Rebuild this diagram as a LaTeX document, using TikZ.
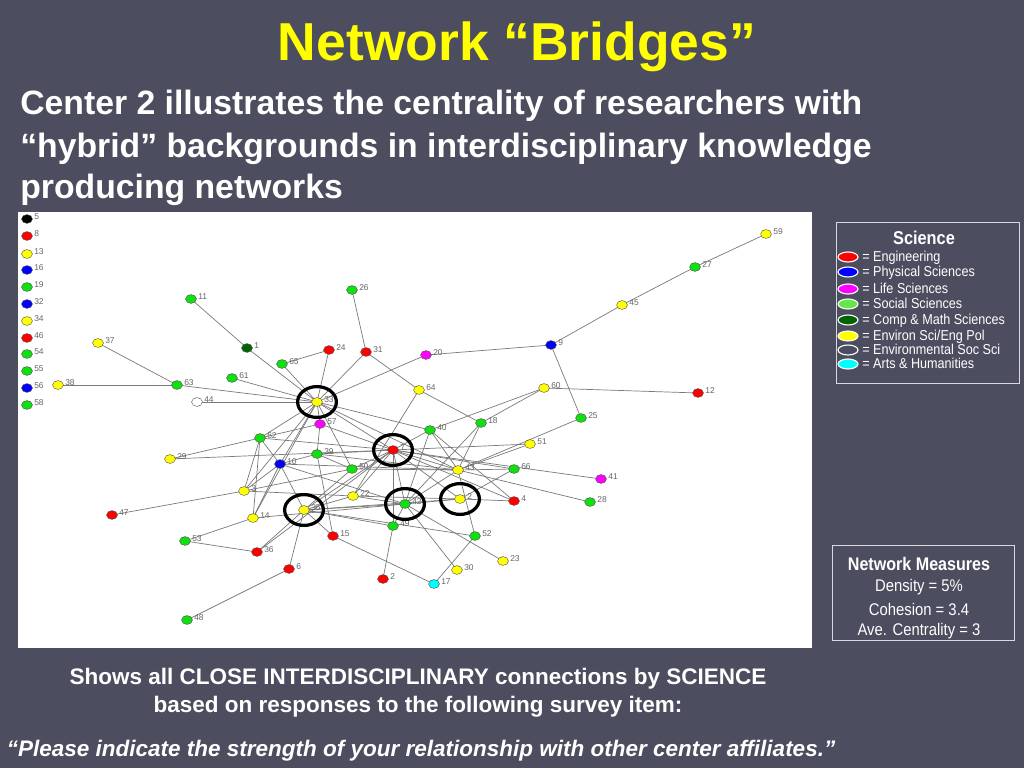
\documentclass[tikz,border=0pt]{standalone}
\usepackage{fontspec}
\setmainfont{Liberation Sans}
\newfontfamily\narrowfont[FakeStretch=0.88]{Liberation Sans}
\usepackage{tikz}
\usetikzlibrary{shapes.geometric, backgrounds}
\definecolor{slidebg}{HTML}{4C4D5E}
\definecolor{titleyellow}{HTML}{FFFF00}
\definecolor{engred}{HTML}{FF0000}
\definecolor{physblue}{HTML}{0000FF}
\definecolor{lifemag}{HTML}{FF00FF}
\definecolor{socgreen}{HTML}{10E010}
\definecolor{leggreen}{HTML}{66E64D}
\definecolor{compgreen}{HTML}{006400}
\definecolor{envyellow}{HTML}{FFFF00}
\definecolor{artscyan}{HTML}{00FFFF}
\definecolor{edgegray}{HTML}{7A7A7A}
\definecolor{labelgray}{HTML}{666666}
\definecolor{boxborder}{HTML}{D8D8E0}
\tikzset{
vertex/.style={
draw=black!70,
ellipse,
inner sep=0pt,
line width=0.3pt,
minimum width=0.27cm,
minimum height=0.22cm
},
engn/.style={fill=engred},
phys/.style={fill=physblue},
life/.style={fill=lifemag},
soc/.style={fill=socgreen},
comp/.style={fill=compgreen},
envp/.style={fill=envyellow},
envs/.style={fill=white},
arts/.style={fill=artscyan},
blk/.style={fill=black},
nlbl/.style={
font=\fontsize{6}{7}\selectfont,
text=labelgray,
inner sep=1pt,
yshift=1.5pt
},
edge/.style={
draw=edgegray,
line width=0.5pt
},
ring/.style={
draw=black,
ellipse,
line width=2.3pt,
inner sep=0pt,
minimum width=0.97cm,
minimum height=0.77cm
},
legkey/.style={
ellipse,
draw=white,
line width=0.8pt,
inner sep=0pt,
minimum width=0.5cm,
minimum height=0.25cm
},
legtext/.style={
font=\narrowfont\fontsize{10.2}{12}\selectfont,
text=white,
anchor=base west,
inner sep=0pt
},
infobox/.style={
draw=boxborder,
line width=1pt
},
titletext/.style={
font=\bfseries\fontsize{38}{44}\selectfont,
text=titleyellow
},
bodytext/.style={
font=\bfseries\fontsize{24}{29}\selectfont,
text=white,
anchor=base west,
inner sep=0pt
},
notetext/.style={
font=\bfseries\fontsize{16}{19}\selectfont,
text=white,
anchor=base,
inner sep=0pt
}
}

\begin{document}
\begin{tikzpicture}[x=0.025cm, y=-0.025cm]

\useasboundingbox (0,0) rectangle (1024,768);

% title and heading
\node[titletext] (title) at (517,47) {Network “Bridges”};
\node[bodytext] (head1) at (20,115) {Center 2 illustrates the centrality of researchers with};
\node[bodytext] (head2) at (20,157) {“hybrid” backgrounds in interdisciplinary knowledge};
\node[bodytext] (head3) at (20,198) {producing networks};

% network nodes
\foreach \n/\t/\x/\y/\s in {
  5/5/27/219/blk, 8/8/27/236/engn, 13/13/27/254/envp, 16/16/27/270/phys,
  19/19/27/287/soc, 32/32/27/304/phys, 34/34/27/321/envp, 46/46/27/338/engn,
  54/54/27/354/soc, 55/55/27/371/soc, 56/56/27/388/phys, 58/58/27/405/soc,
  11/11/191/299/soc, 37/37/98/343/envp, 1/1/247/348/comp, 38/38/58/385/envp,
  63/63/177/385/soc, 61/61/232/378/soc, 44/44/197/402/envs, 65/65/282/364/soc,
  26/26/352/290/soc, 24/24/329/350/engn, 31/31/366/352/engn, 20/20/426/355/life,
  64/64/419/390/envp, 33/33/317/402/envp, 57/57/320/424/life, 40/40/430/430/soc,
  18/18/481/423/soc, 9/9/551/345/phys, 59/59/766/234/envp, 27/27/695/267/soc,
  45/45/622/305/envp, 60/60/544/388/envp, 12/12/698/393/engn, 25/25/581/418/soc,
  51/51/530/444/envp, 66/66/514/469/soc, 41/41/601/479/life, 28/28/590/502/soc,
  62/62/260/438/soc, 29/29/170/459/envp, 10/10/280/464/phys, 3/3/244/491/envp,
  47/47/112/515/engn, 14/14/253/518/envp, 53/53/185/541/soc, 36/36/257/552/engn,
  6/6/289/569/engn, 48/48/187/620/soc, 39/39/317/454/soc, 7/7/393/450/engn,
  50/50/352/469/soc, 43/43/458/470/envp, 22/22/353/496/envp, 42/42/405/504/soc,
  2b/2/460/499/envp, 4/4/514/501/engn, 35/35/304/510/envp, 49/49/393/526/soc,
  15/15/333/536/engn, 52/52/475/536/soc, 23/23/503/561/envp, 30/30/457/570/envp,
  2/2/383/579/engn, 17/17/434/584/arts}
  \node[vertex, \s, label={[nlbl]0:\t}] (n\n) at (\x,\y) {};

% bridging researchers
\foreach \n in {33, 7, 42, 2b, 35}
  \node[ring] (ring\n) at (n\n) {};

% legend
\node[infobox, minimum width=4.575cm, minimum height=4.025cm, anchor=north west] (legend) at (836,222) {};
\node[font=\narrowfont\bfseries\fontsize{13.2}{15}\selectfont, text=white] (legtitle) at (924,238) {Science};
\node[legkey, fill=engred] (kengn) at (848,257) {};
\node[legtext] at (862,261) {= Engineering};
\node[legkey, fill=physblue] (kphys) at (848,272) {};
\node[legtext] at (862,276) {= Physical Sciences};
\node[legkey, fill=lifemag] (klife) at (848,289) {};
\node[legtext] at (862,293) {= Life Sciences};
\node[legkey, fill=leggreen] (ksoc) at (848,304) {};
\node[legtext] at (862,308) {= Social Sciences};
\node[legkey, fill=compgreen] (kcomp) at (848,320) {};
\node[legtext] at (862,324) {= Comp \& Math Sciences};
\node[legkey, fill=envyellow] (kenvp) at (848,336) {};
\node[legtext] at (862,340) {= Environ Sci/Eng Pol};
\node[legkey, fill=slidebg] (kenvs) at (848,350) {};
\node[legtext] at (862,354) {= Environmental Soc Sci};
\node[legkey, fill=artscyan] (karts) at (848,364) {};
\node[legtext] at (862,368) {= Arts \& Humanities};

% network measures
\node[infobox, minimum width=4.55cm, minimum height=2.375cm, anchor=north west] (measures) at (832,545) {};
\node[font=\narrowfont\bfseries\fontsize{13}{15}\selectfont, text=white] (mtitle) at (919,564) {Network Measures};
\node[font=\narrowfont\fontsize{12}{14}\selectfont, text=white] (density) at (919,587) {Density = 5\%};
\node[font=\narrowfont\fontsize{12}{14}\selectfont, text=white] (cohesion) at (919,609) {Cohesion = 3.4};
\node[font=\narrowfont\fontsize{12}{14}\selectfont, text=white] (centrality) at (919,631) {Ave. Centrality = 3};

% caption
\node[notetext] (note1) at (418,684) {Shows all CLOSE INTERDISCIPLINARY connections by SCIENCE};
\node[notetext] (note2) at (418,712) {based on responses to the following survey item:};
\node[notetext, font=\bfseries\itshape\fontsize{16}{19}\selectfont] (quote) at (421,756)
  {“Please indicate the strength of your relationship with other center affiliates.”};

\begin{pgfonlayer}{background}
\fill[slidebg] (0,0) rectangle (1024,768);
\fill[white] (18,212) rectangle (812,648);
\foreach \a/\b in {
  11/1, 1/33, 37/63, 38/63, 63/33, 61/33, 44/33, 65/33, 24/65, 24/33,
  26/31, 31/33, 31/64, 20/33, 20/9, 64/18, 64/22, 33/40, 40/60, 18/60,
  60/12, 9/45, 45/27, 27/59, 9/25, 25/43, 33/57, 33/62, 33/10, 33/7,
  33/50, 33/3, 33/43, 33/14, 62/29, 62/57, 62/10, 62/3, 62/14, 62/7,
  29/7, 3/47, 3/10, 14/10, 3/22, 3/50, 14/53, 53/36, 36/35, 36/7,
  14/42, 6/48, 6/35, 15/17, 15/39, 57/39, 57/7, 39/7, 39/43, 39/50,
  10/35, 10/42, 10/43, 10/39, 50/43, 50/7, 50/35, 22/7, 22/35, 22/42,
  35/7, 35/42, 35/52, 35/15, 35/49, 35/2b, 7/42, 7/49, 7/43, 7/66,
  7/40, 7/51, 7/2b, 7/4, 7/41, 43/28, 40/43, 40/4, 40/42, 18/43,
  18/42, 43/52, 43/42, 43/66, 43/51, 66/2b, 2b/4, 2b/42, 42/49, 42/30,
  42/23, 49/2, 52/17, 22/2b}
  \draw[edge] (n\a.center) -- (n\b.center);
\end{pgfonlayer}

\end{tikzpicture}
\end{document}
